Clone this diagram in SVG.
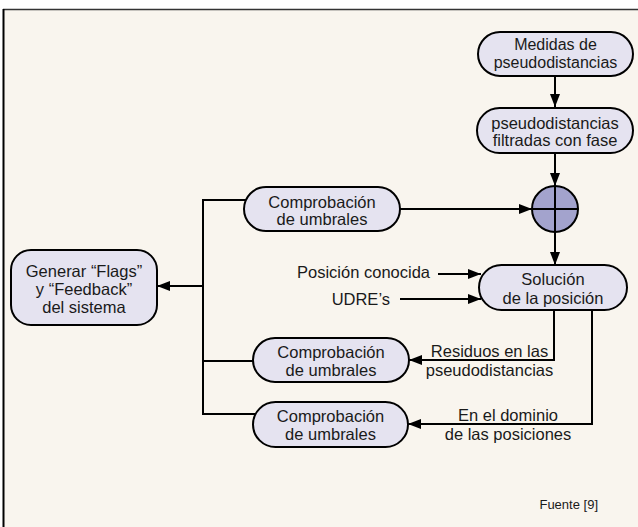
<svg xmlns="http://www.w3.org/2000/svg" width="638" height="527" viewBox="0 0 638 527">
<defs>
<marker id="ah" markerWidth="13" markerHeight="10" refX="13" refY="5" orient="auto" markerUnits="userSpaceOnUse">
<path d="M0,0 L13,5 L0,10 Z" fill="#000"/>
</marker>
<style>
.n{fill:#e5e3f0;stroke:#000;stroke-width:2}
.t{font-family:"Liberation Sans",Arial,sans-serif;font-size:16.5px;fill:#1a1a1a;text-anchor:middle}
.c{fill:none;stroke:#000;stroke-width:2}
.a{fill:none;stroke:#000;stroke-width:2;marker-end:url(#ah)}
</style>
</defs>
<rect x="0" y="0" width="638" height="527" fill="#ffffff"/>
<rect x="4" y="10" width="640" height="530" fill="#f9f5ee"/>
<line x1="3" y1="9.5" x2="638" y2="9.5" stroke="#333" stroke-width="1.5"/>
<line x1="3.5" y1="9" x2="3.5" y2="527" stroke="#000" stroke-width="2"/>

<g id="connectors">
<line class="a" x1="555" y1="76" x2="555" y2="107"/>
<line class="a" x1="555" y1="153" x2="555" y2="186"/>
<line class="a" x1="555" y1="232" x2="555" y2="265"/>
<line class="a" x1="400" y1="209" x2="532" y2="209"/>
<line class="a" x1="438" y1="274" x2="481" y2="274"/>
<line class="a" x1="400" y1="299" x2="481" y2="299"/>
<polyline class="a" points="554,309 554,360 409,360"/>
<polyline class="a" points="592,306 592,424 408,424"/>
<polyline class="c" points="246,200 203,200 203,414 256,414"/>
<line class="c" x1="203" y1="361" x2="253" y2="361"/>
<line class="a" x1="203" y1="286" x2="157" y2="286"/>
</g>

<g id="medidas">
<rect class="n" x="478" y="32" width="155" height="44" rx="22"/>
<text class="t" x="555.5" y="50" style="font-size:16px">Medidas de</text>
<text class="t" x="555.5" y="67.5" style="font-size:16px">pseudodistancias</text>
</g>
<g id="filtradas">
<rect class="n" x="477" y="108" width="156" height="45" rx="22.5"/>
<text class="t" x="555" y="128.5">pseudodistancias</text>
<text class="t" x="555" y="146">filtradas con fase</text>
</g>
<g id="suma">
<circle cx="555" cy="209" r="23" fill="#a3a3cd" stroke="#000" stroke-width="2"/>
<line x1="532" y1="209" x2="578" y2="209" stroke="#000" stroke-width="2"/>
<line x1="555" y1="186" x2="555" y2="232" stroke="#000" stroke-width="2"/>
</g>
<g id="comp1">
<rect class="n" x="244" y="187" width="156" height="44" rx="22"/>
<text class="t" x="322" y="207.5">Comprobación</text>
<text class="t" x="322" y="225">de umbrales</text>
</g>
<g id="generar">
<rect class="n" x="11" y="250" width="146" height="75" rx="20"/>
<text class="t" x="84" y="277">Generar “Flags”</text>
<text class="t" x="84" y="295">y “Feedback”</text>
<text class="t" x="84" y="313">del sistema</text>
</g>
<g id="solucion">
<rect class="n" x="479" y="265" width="148" height="45" rx="22.5"/>
<text class="t" x="553" y="285">Solución</text>
<text class="t" x="553" y="303.5">de la posición</text>
</g>
<g id="comp2">
<rect class="n" x="253" y="338" width="156" height="44" rx="22"/>
<text class="t" x="331" y="357.5">Comprobación</text>
<text class="t" x="331" y="376">de umbrales</text>
</g>
<g id="comp3">
<rect class="n" x="253" y="402" width="155" height="45" rx="22.5"/>
<text class="t" x="330.5" y="421.5">Comprobación</text>
<text class="t" x="330.5" y="440">de umbrales</text>
</g>
<g id="labels">
<text class="t" x="430" y="278" style="text-anchor:end">Posición conocida</text>
<text class="t" x="390" y="305" style="text-anchor:end">UDRE’s</text>
<text class="t" x="489.5" y="357">Residuos en las</text>
<text class="t" x="489.5" y="376">pseudodistancias</text>
<text class="t" x="508" y="421">En el dominio</text>
<text class="t" x="508" y="440">de las posiciones</text>
<text class="t" x="598" y="509" style="font-size:13px;text-anchor:end">Fuente [9]</text>
</g>
</svg>
